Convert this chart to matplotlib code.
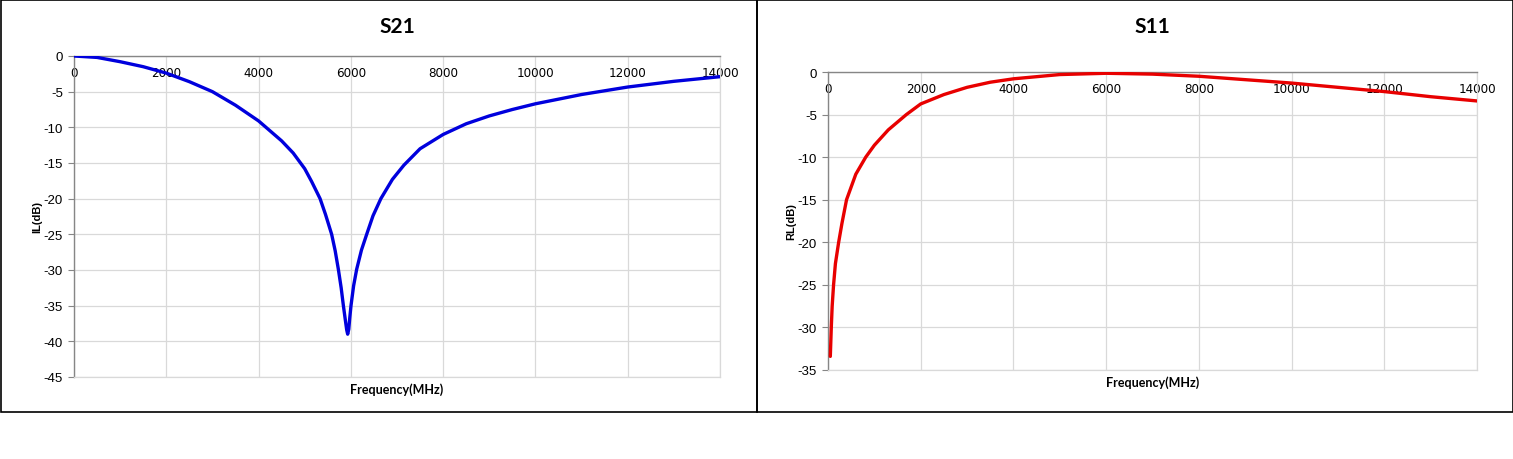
import matplotlib.pyplot as plt
from matplotlib.patches import Rectangle

plt.rcParams["axes.unicode_minus"] = False
plt.rcParams["font.family"] = "Liberation Sans"

# --- S21 (insertion loss) ---
freq_s21 = [0, 500, 1000, 1500, 2000, 2500, 3000, 3500, 4000, 4500, 4750, 5000, 5150,
            5333, 5450, 5584, 5660, 5729, 5790, 5838, 5880, 5910, 5931, 5955, 5975,
            6003, 6060, 6126, 6230, 6343, 6480, 6650, 6900, 7150, 7500, 8000, 8500,
            9000, 9500, 10000, 11000, 12000, 13000, 14000]
il_db = [0.0, -0.2, -0.8, -1.5, -2.4, -3.6, -5.0, -6.9, -9.1, -11.9, -13.6, -15.8, -17.6,
         -20.0, -22.2, -25.0, -27.3, -29.9, -32.5, -35.0, -37.0, -38.4, -39.0, -38.3, -36.8,
         -35.0, -32.2, -29.9, -27.2, -25.0, -22.4, -20.0, -17.3, -15.3, -13.0, -11.0, -9.5,
         -8.4, -7.5, -6.7, -5.4, -4.35, -3.55, -2.9]

# --- S11 (return loss) ---
freq_s11 = [50, 71, 90, 120, 160, 230, 300, 400, 600, 814, 1000, 1300, 1690, 2000, 2500,
            3000, 3500, 4000, 5000, 6000, 7000, 8000, 9000, 10000, 11000, 12000, 13000,
            14000]
rl_db = [-33.4, -30.0, -27.5, -25.0, -22.5, -20.0, -17.8, -15.0, -12.0, -10.0, -8.6, -6.8,
         -5.0, -3.75, -2.65, -1.8, -1.2, -0.8, -0.3, -0.15, -0.25, -0.5, -0.9, -1.3, -1.8,
         -2.3, -2.9, -3.4]

xticks = [0, 2000, 4000, 6000, 8000, 10000, 12000, 14000]

W, H = 1513, 460
fig = plt.figure(figsize=(W / 100, H / 100), dpi=100)

# panel frames
for x0 in (0, 756):
    fig.patches.append(Rectangle((x0 / W + 0.0004, 1 - 413 / H), 756 / W, 413 / H - 0.002,
                                 transform=fig.transFigure, fill=False,
                                 edgecolor="black", linewidth=1.2))


def panel(rect, x, y, color, title, ylabel, ymin, yticks):
    ax = fig.add_axes(rect)
    ax.plot(x, y, color=color, linewidth=2.4, solid_capstyle="round",
            solid_joinstyle="round", zorder=3)
    ax.set_xlim(0, 14000)
    ax.set_ylim(ymin, 0)
    ax.set_xticks(xticks)
    ax.set_yticks(yticks)
    ax.grid(True, color="#d9d9d9", linewidth=0.9)
    ax.set_axisbelow(True)
    for s in ("right", "bottom"):
        ax.spines[s].set_color("#d9d9d9")
        ax.spines[s].set_linewidth(0.9)
    for s in ("left", "top"):
        ax.spines[s].set_color("#868686")
        ax.spines[s].set_linewidth(1.0)
    ax.xaxis.set_ticks_position("top")
    ax.tick_params(axis="x", top=True, bottom=False, labeltop=True, labelbottom=False,
                   direction="in", length=0, pad=-7, labelsize=9.5)
    for lb in ax.get_xticklabels():
        lb.set_family("DejaVu Sans")
        lb.set_fontstretch("condensed")
        lb.set_verticalalignment("top")
    ax.tick_params(axis="y", direction="out", length=4, color="#868686",
                   labelsize=9.5, pad=4)
    ax.set_ylabel(ylabel, fontsize=8, fontweight="bold", labelpad=1)
    ax.set_xlabel("Frequency(MHz)", fontsize=9, fontweight="bold", family="Lato",
                  labelpad=4)
    cx = rect[0] + rect[2] / 2
    fig.text(cx, 1 - 27 / H, title, fontsize=15, fontweight="bold", family="Lato",
             ha="center", va="center")
    return ax


panel([74 / W, 1 - 378 / H, 646 / W, 321 / H], freq_s21, il_db, "#0000dd", "S21", "IL(dB)",
      -45, list(range(-45, 1, 5)))
panel([828 / W, 1 - 371 / H, 649 / W, 298 / H], freq_s11, rl_db, "#e80000", "S11", "RL(dB)",
      -35, list(range(-35, 1, 5)))

fig.savefig("out.png", dpi=100)
